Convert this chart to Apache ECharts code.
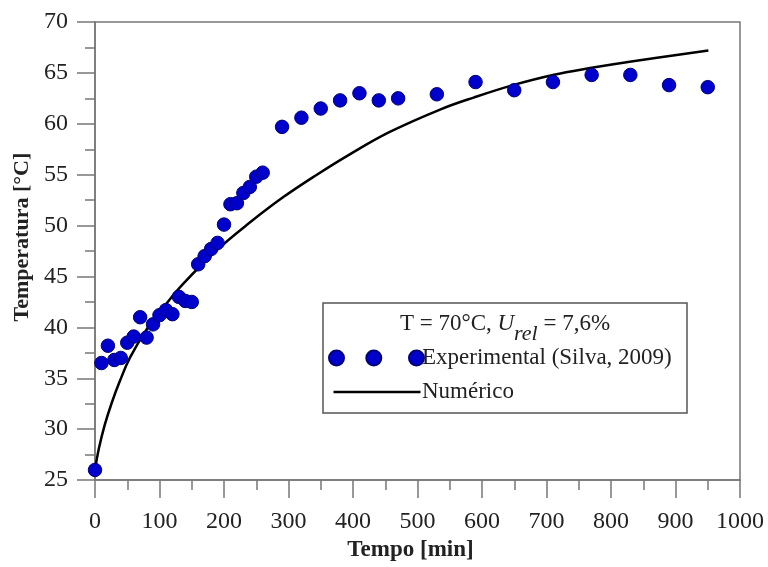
<!DOCTYPE html>
<html>
<head>
<meta charset="utf-8">
<script src="https://cdn.jsdelivr.net/npm/echarts@6/dist/echarts.min.js"></script>
<style>
html,body{margin:0;padding:0;background:#fff;}
#chart{width:768px;height:567px;}
</style>
</head>
<body>
<div id="chart"></div>
<script>
// Experimental data (Silva, 2009)
var expTime = [0,10,20,30,40,50,60,70,80,90,100,110,120,130,140,150,160,170,180,190,200,210,220,230,240,250,260,290,320,350,380,410,440,470,530,590,650,710,770,830,890,950];
var expTemp = [26.0,36.5,38.2,36.8,37.0,38.5,39.1,41.0,39.0,40.3,41.2,41.7,41.3,43.0,42.6,42.5,46.2,47.0,47.7,48.3,50.1,52.1,52.2,53.2,53.8,54.8,55.2,59.7,60.6,61.5,62.3,63.0,62.3,62.5,62.9,64.1,63.3,64.1,64.8,64.8,63.8,63.6];
// Numerical curve
var numTime = [0,6,15,26,39,54,80,109,137,189,240,292,344,395,457,535,588,648,710,770,829,951];
var numTemp = [26.0,28.1,30.4,32.6,34.8,37.0,39.8,42.2,44.3,47.6,50.3,52.8,55.0,57.0,59.2,61.4,62.6,63.8,64.8,65.5,66.1,67.2];
var xTicks = {min:0, max:1000, interval:100};
var yTicks = {min:25, max:70, interval:5};

var F = 'Liberation Serif';
var expData = expTime.map(function(t,i){return [t, expTemp[i]];});
var numData = numTime.map(function(t,i){return [t, numTemp[i]];});

var circ = function(cx){ return 'M'+(cx-7.5)+',7.5a7.5,7.5 0 1,0 15,0a7.5,7.5 0 1,0 -15,0Z'; };
var threeCircles = 'path://' + circ(7.5) + ' ' + circ(44.8) + ' ' + circ(87.5);
var lineIcon = 'path://M0,0M95,15M4.5,6.3h87v2.4h-87z';

var axisCol = '#777';
var chart = echarts.init(document.getElementById('chart'), null, {renderer:'canvas'});
chart.setOption({
  backgroundColor:'#fff',
  animation:false,
  grid:{left:95,right:28,top:22,bottom:85,show:true,borderColor:axisCol,borderWidth:1.5,backgroundColor:'transparent'},
  xAxis:{
    type:'value', min:xTicks.min, max:xTicks.max, interval:xTicks.interval,
    name:'Tempo [min]', nameLocation:'middle', nameGap:55,
    nameTextStyle:{fontFamily:F,fontSize:23,fontWeight:'bold',color:'#222',padding:[0,14,0,0]},
    axisLine:{show:true,lineStyle:{color:axisCol,width:1.5}},
    axisTick:{show:true,length:18,lineStyle:{color:axisCol,width:1.5}},
    minorTick:{show:true,splitNumber:2,length:10,lineStyle:{color:axisCol,width:1.5}},
    splitLine:{show:false},
    axisLabel:{margin:30,fontFamily:F,fontSize:24,color:'#222',formatter:function(v){return String(v);}}
  },
  yAxis:{
    type:'value', min:yTicks.min, max:yTicks.max, interval:yTicks.interval,
    name:'Temperatura [°C]', nameLocation:'middle', nameGap:57,
    nameTextStyle:{fontFamily:F,fontSize:22,fontWeight:'bold',color:'#222',padding:[0,0,0,28]},
    axisLine:{show:true,lineStyle:{color:axisCol,width:1.5}},
    axisTick:{show:true,length:18,lineStyle:{color:axisCol,width:1.5}},
    minorTick:{show:true,splitNumber:2,length:10,lineStyle:{color:axisCol,width:1.5}},
    splitLine:{show:false},
    axisLabel:{margin:27,fontFamily:F,fontSize:24,color:'#222',formatter:function(v){return String(v);}}
  },
  legend:{
    orient:'vertical', left:328, top:346, padding:0, itemWidth:95, itemHeight:15, itemGap:10,
    selectedMode:false, z:10,
    textStyle:{fontFamily:F,fontSize:23,color:'#222',lineHeight:24,padding:[0,0,0,-7]},
    data:[{name:'Experimental (Silva, 2009)', icon:threeCircles},{name:'Numérico', icon:lineIcon}]
  },
  graphic:[
    {type:'rect', z:5, shape:{x:323,y:303,width:364,height:110}, style:{fill:'#fff',stroke:'#555',lineWidth:1.5}},
    {type:'text', z:6, x:505, y:327.5, style:{
      text:'{n|T = 70°C, }{i|U}{s|rel}{n| = 7,6%}',
      align:'center', verticalAlign:'middle',
      rich:{
        n:{fontFamily:F,fontSize:23,fill:'#222',lineHeight:30,verticalAlign:'top'},
        i:{fontFamily:F,fontSize:23,fontStyle:'italic',fill:'#222',lineHeight:30,verticalAlign:'top'},
        s:{fontFamily:F,fontSize:22,fontStyle:'italic',fill:'#222',lineHeight:24,padding:[11,0,0,0],verticalAlign:'top'}
      }
    }}
  ],
  series:[
    {name:'Numérico', type:'line', data:numData, smooth:0.4, showSymbol:false, symbol:'none',
     lineStyle:{color:'#000',width:2.5}, itemStyle:{color:'#000'}, z:2},
    {name:'Experimental (Silva, 2009)', type:'scatter', data:expData, symbol:'circle', symbolSize:13.5,
     itemStyle:{color:'#0000cd',borderColor:'#00007a',borderWidth:1,opacity:1}, z:3}
  ]
});
</script>
</body>
</html>
